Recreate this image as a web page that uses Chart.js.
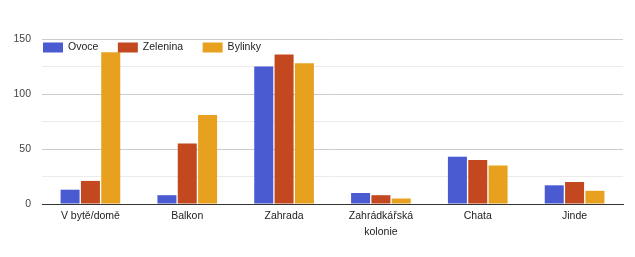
<!DOCTYPE html>
<html>
<head>
<meta charset="utf-8">
<script src="https://cdn.jsdelivr.net/npm/chart.js@4/dist/chart.umd.min.js"></script>
<style>
  html, body { margin: 0; padding: 0; background: #fff; }
  #wrap { width: 635px; height: 257px; position: relative; }
</style>
</head>
<body>
<div id="wrap"><canvas id="c"></canvas></div>
<script>
const categories = ['V bytě/domě', 'Balkon', 'Zahrada', ['Zahrádkářská', 'kolonie'], 'Chata', 'Jinde'];
const seriesNames = ['Ovoce', 'Zelenina', 'Bylinky'];
const ovoce = [13, 8, 125, 10, 43, 17];
const zelenina = [21, 55, 136, 8, 40, 20];
const bylinky = [138, 81, 128, 5, 35, 12];
const yTickLabels = [0, 50, 100, 150];
const colors = ['#4a5bd1', '#c4481f', '#e8a11e'];

const FONT = '"Liberation Sans", Arial, sans-serif';

const insideLegend = {
  id: 'insideLegend',
  afterDraw(chart) {
    const ctx = chart.ctx;
    const area = chart.chartArea;
    ctx.save();
    ctx.font = '10.5px ' + FONT;
    ctx.textBaseline = 'middle';
    ctx.textAlign = 'left';
    let x = area.left + 1;
    const yMid = area.top + 8.5;
    chart.data.datasets.forEach(ds => {
      ctx.fillStyle = ds.backgroundColor;
      ctx.fillRect(x, yMid - 5, 20, 10);
      ctx.fillStyle = '#222';
      ctx.fillText(ds.label, x + 25, yMid);
      x += 25 + ctx.measureText(ds.label).width + 19.5;
    });
    ctx.restore();
  }
};

new Chart(document.getElementById('c'), {
  type: 'bar',
  data: {
    labels: categories,
    datasets: [
      { label: seriesNames[0], data: ovoce, backgroundColor: colors[0] },
      { label: seriesNames[1], data: zelenina, backgroundColor: colors[1] },
      { label: seriesNames[2], data: bylinky, backgroundColor: colors[2] }
    ]
  },
  options: {
    responsive: true,
    maintainAspectRatio: false,
    animation: false,
    devicePixelRatio: 1,
    layout: { padding: { left: 0, right: 12, top: 39, bottom: 0 } },
    datasets: { bar: { categoryPercentage: 0.63, barPercentage: 0.935 } },
    plugins: { legend: { display: false }, tooltip: { enabled: false } },
    scales: {
      x: {
        grid: { display: false, drawTicks: false },
        border: { display: true, color: '#333', width: 1 },
        ticks: { color: '#222', font: { family: FONT, size: 10.5, lineHeight: 1.5 }, padding: 4, maxRotation: 0, autoSkip: false },
        afterFit(scale) { scale.height = 53; }
      },
      y: {
        min: 0, max: 150,
        afterBuildTicks(scale) {
          const t = [];
          for (let v = 0; v <= 150; v += 25) t.push({ value: v });
          scale.ticks = t;
        },
        grid: {
          drawTicks: false,
          color: c => c.tick.value === 0 ? '#333' : (yTickLabels.includes(c.tick.value) ? '#cccccc' : '#ebebeb'),
          lineWidth: 1
        },
        border: { display: false },
        ticks: {
          color: '#444',
          font: { family: FONT, size: 10.5 },
          padding: 11,
          callback: v => yTickLabels.includes(v) ? String(v) : ''
        },
        afterFit(scale) { scale.width = 42; }
      }
    }
  },
  plugins: [insideLegend]
});
</script>
</body>
</html>
